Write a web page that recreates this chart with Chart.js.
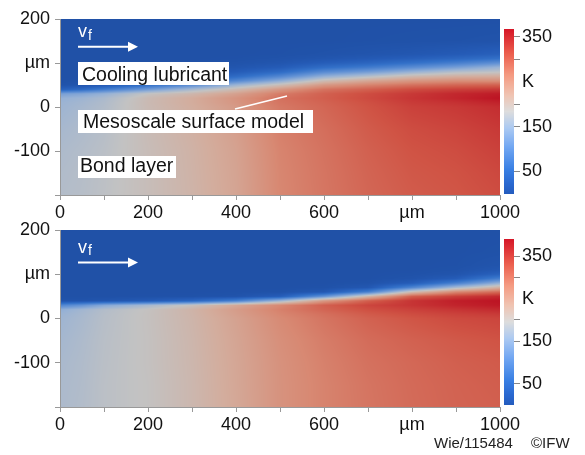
<!DOCTYPE html>
<html><head><meta charset="utf-8">
<script src="https://cdn.jsdelivr.net/npm/chart.js@4.4.1/dist/chart.umd.min.js"></script>
<style>
html,body{margin:0;padding:0;background:#fff;}
#wrap{position:relative;width:585px;height:455px;overflow:hidden;font-family:"Liberation Sans",Arial,sans-serif;}
canvas{position:absolute;}
.foot{position:absolute;font-size:15px;line-height:17px;color:#222;white-space:nowrap;}
</style></head><body>
<div id="wrap">
<canvas id="topPanel" width="585" height="225" style="left:0;top:0"></canvas>
<canvas id="topBar" width="90" height="225" style="left:495px;top:0"></canvas>
<canvas id="bottomPanel" width="585" height="225" style="left:0;top:211px"></canvas>
<canvas id="bottomBar" width="90" height="225" style="left:495px;top:210px"></canvas>
<div class="foot" style="left:434px;top:434px">Wie/115484</div>
<div class="foot" style="left:531px;top:434px">©IFW</div>
</div>
<script>
// ---- data (temperatures in K) ----
const xPositions = [0, 50, 100, 200, 300, 400, 500, 600, 700, 800, 900, 1000];           // µm, columns
const yPositions = [200, 150, 120, 110, 100, 90, 80, 70, 60, 50, 40, 30, 20, 10, 0, -50, -100, -150, -200]; // µm, rows
const xTickLabels = {0: '0', 200: '200', 400: '400', 600: '600', 800: 'µm', 1000: '1000'};
const yTickLabels = {200: '200', 100: 'µm', 0: '0', '-100': '-100'};
const barTickLabels = {350: '350', 250: 'K', 150: '150', 50: '50'};
const topMaxK = 367;
const bottomMaxK = 390;
// one column per x position, values top (200 µm) to bottom (-200 µm)
const topTemps = [
  [0,0,0,0,0,0,0,0,1,5,30,120,145,150,152,160,165,168,170],
  [0,0,0,0,0,0,0,0,2,8,45,130,152,157,160,166,170,172,173],
  [0,0,0,0,0,0,0,1,4,15,70,145,163,167,169,173,176,178,179],
  [0,0,0,0,0,2,4,8,15,50,115,185,198,199,198,196,194,193,193],
  [0,0,0,0,1,3,8,18,45,95,160,205,220,220,218,214,211,210,209],
  [0,0,0,1,4,10,22,45,85,150,200,235,250,248,243,237,233,231,230],
  [0,0,1,4,10,22,45,85,135,195,245,275,285,282,278,272,268,266,265],
  [0,0,4,10,25,50,90,140,195,245,283,300,302,298,295,288,284,282,281],
  [0,1,8,18,38,70,115,170,225,268,300,318,320,315,312,305,300,297,295],
  [0,2,13,28,55,95,145,200,245,285,318,335,338,333,328,318,312,308,305],
  [0,3,20,40,75,120,170,215,255,295,328,350,352,342,335,325,318,313,310],
  [0,5,30,55,100,150,180,220,255,300,335,360,367,355,345,335,328,322,318]
];
const bottomTemps = [
  [0,0,0,0,0,0,0,0,0,0,5,90,150,158,162,168,172,174,175],
  [0,0,0,0,0,0,0,0,0,0,6,110,165,170,172,176,178,179,180],
  [0,0,0,0,0,0,0,0,0,0,10,140,180,183,184,186,187,188,188],
  [0,0,0,0,0,0,0,0,0,1,20,170,198,199,199,198,198,197,197],
  [0,0,0,0,0,0,0,0,0,2,40,200,222,221,220,218,217,216,216],
  [0,0,0,0,0,0,0,0,1,5,80,240,255,252,248,244,242,241,240],
  [0,0,0,0,0,0,0,0,2,25,160,280,288,283,278,272,269,268,268],
  [0,0,0,0,0,0,0,2,15,110,260,320,315,305,300,292,288,286,286],
  [0,0,0,0,0,0,3,15,80,220,320,345,335,325,318,308,303,300,299],
  [0,0,0,0,2,6,25,90,210,320,360,360,348,338,330,318,312,310,309],
  [0,0,1,3,8,25,80,170,280,350,380,375,360,348,340,326,320,317,316],
  [0,2,8,15,35,80,150,230,310,370,390,385,370,355,345,332,325,322,320]
];

// ---- styling ----
const FONT = '"Liberation Sans", Arial, sans-serif';
const cmapStops = [
  [0.00, [36, 92, 190]], [0.06, [42, 104, 208]], [0.15, [58, 128, 228]], [0.28, [112, 166, 242]],
  [0.40, [172, 202, 242]], [0.50, [221, 221, 221]], [0.60, [240, 196, 178]], [0.72, [245, 155, 130]],
  [0.85, [236, 95, 78]], [1.00, [214, 22, 40]]
];
function cmap(t) {
  t = Math.max(0, Math.min(1, t));
  for (let i = 0; i < cmapStops.length - 1; i++) {
    const [t0, c0] = cmapStops[i], [t1, c1] = cmapStops[i + 1];
    if (t <= t1) {
      const f = (t - t0) / (t1 - t0);
      return [0, 1, 2].map(k => c0[k] + (c1[k] - c0[k]) * f);
    }
  }
  return cmapStops[cmapStops.length - 1][1];
}
function clamp01(v) { return Math.max(0, Math.min(1, v)); }
function sample(field, xv, yv) {
  let i = 0; while (i < xPositions.length - 2 && xv > xPositions[i + 1]) i++;
  let j = 0; while (j < yPositions.length - 2 && yv < yPositions[j + 1]) j++;
  const tx = clamp01((xv - xPositions[i]) / (xPositions[i + 1] - xPositions[i]));
  const ty = clamp01((yPositions[j] - yv) / (yPositions[j] - yPositions[j + 1]));
  const a = field[i][j], b = field[i + 1][j], c = field[i][j + 1], d = field[i + 1][j + 1];
  return a * (1 - tx) * (1 - ty) + b * tx * (1 - ty) + c * (1 - tx) * ty + d * tx * ty;
}
const SHADE = 0.88;

function heatPlugin(field, maxK) {
  return {
    id: 'heat',
    beforeDraw(chart) {
      const {ctx, chartArea: a, scales: {x, y}} = chart;
      const w = Math.round(a.right - a.left), h = Math.round(a.bottom - a.top);
      const off = document.createElement('canvas'); off.width = w; off.height = h;
      const octx = off.getContext('2d');
      const img = octx.createImageData(w, h);
      for (let py = 0; py < h; py++) {
        const yv = y.getValueForPixel(a.top + py + 0.5);
        for (let px = 0; px < w; px++) {
          const xv = x.getValueForPixel(a.left + px + 0.5);
          const c = cmap(sample(field, xv, yv) / maxK);
          const k = (py * w + px) * 4;
          img.data[k] = c[0] * SHADE; img.data[k + 1] = c[1] * SHADE; img.data[k + 2] = c[2] * SHADE; img.data[k + 3] = 255;
        }
      }
      octx.putImageData(img, 0, 0);
      ctx.drawImage(off, a.left, a.top, w, h);
    }
  };
}

function notesPlugin(n) {
  return {
    id: 'notes',
    afterDraw(chart) {
      const {ctx, chartArea: a} = chart;
      const L = a.left, T = a.top;
      ctx.save();
      ctx.fillStyle = '#fff';
      ctx.textBaseline = 'alphabetic';
      ctx.font = '18px ' + FONT;
      ctx.fillText('v', L + 18, T + n.vBase);
      ctx.font = '14px ' + FONT;
      ctx.fillText('f', L + 28, T + n.fBase);
      ctx.strokeStyle = '#fff'; ctx.lineWidth = 2;
      ctx.beginPath(); ctx.moveTo(L + 18, T + n.arrowY); ctx.lineTo(L + 70, T + n.arrowY); ctx.stroke();
      ctx.beginPath(); ctx.moveTo(L + 78, T + n.arrowY); ctx.lineTo(L + 68, T + n.arrowY - 5); ctx.lineTo(L + 68, T + n.arrowY + 5); ctx.closePath(); ctx.fill();
      if (n.boxes) {
        ctx.strokeStyle = '#fff'; ctx.lineWidth = 1.5;
        ctx.beginPath(); ctx.moveTo(L + 175, T + 90); ctx.lineTo(L + 227, T + 77); ctx.stroke();
        const boxes = [
          ['Cooling lubricant', 18, 43, 151, 23, 22, 62],
          ['Mesoscale surface model', 18, 91, 235, 23, 23, 109],
          ['Bond layer', 18, 137, 98, 22, 20, 153]
        ];
        ctx.font = '19.5px ' + FONT;
        for (const [t, bx, by, bw, bh, tx, ty] of boxes) {
          ctx.fillStyle = '#fff'; ctx.fillRect(L + bx, T + by, bw, bh);
          ctx.fillStyle = '#111'; ctx.fillText(t, L + tx, T + ty);
        }
      }
      ctx.restore();
    }
  };
}

function makePanel(id, field, maxK, notes, xAxisH) {
  new Chart(document.getElementById(id), {
    type: 'scatter',
    data: {datasets: [{data: []}]},
    options: {
      responsive: false, animation: false, devicePixelRatio: 1,
      layout: {padding: {left: 0, right: 85, top: notes.top, bottom: 0}},
      plugins: {legend: {display: false}, tooltip: {enabled: false}},
      scales: {
        x: {
          type: 'linear', min: 0, max: 1000,
          afterFit: s => { s.height = xAxisH; },
          ticks: {stepSize: 100, autoSkip: false, maxRotation: 0, padding: 2, color: '#111',
                  font: {family: FONT, size: 18}, callback: v => xTickLabels[v] ?? ''},
          grid: {drawOnChartArea: false, drawTicks: true, tickLength: 5, color: '#999'},
          border: {display: true, color: '#999'}
        },
        y: {
          type: 'linear', min: -200, max: 200,
          afterFit: s => { s.width = 60; },
          ticks: {stepSize: 100, autoSkip: false, padding: 5, color: '#111',
                  font: {family: FONT, size: 18}, callback: v => yTickLabels[v] ?? ''},
          grid: {drawOnChartArea: false, drawTicks: true, tickLength: 5, color: '#999'},
          border: {display: true, color: '#999'}
        }
      }
    },
    plugins: [heatPlugin(field, maxK), notesPlugin(notes)]
  });
}

function barPlugin(maxK) {
  return {
    id: 'bar',
    beforeDraw(chart) {
      const {ctx, chartArea: a, scales: {y}} = chart;
      for (let py = Math.floor(a.top); py < Math.ceil(a.bottom); py++) {
        const c = cmap(y.getValueForPixel(py + 0.5) / maxK);
        ctx.fillStyle = `rgb(${c[0] | 0},${c[1] | 0},${c[2] | 0})`;
        ctx.fillRect(a.left, py, a.right - a.left, 1);
      }
    }
  };
}

function makeBar(id, maxK, padTop, padBottom) {
  new Chart(document.getElementById(id), {
    type: 'scatter',
    data: {datasets: [{data: []}]},
    options: {
      responsive: false, animation: false, devicePixelRatio: 1,
      layout: {padding: {left: 9, right: 0, top: padTop, bottom: padBottom}},
      plugins: {legend: {display: false}, tooltip: {enabled: false}},
      scales: {
        x: {display: false},
        y: {
          type: 'linear', position: 'right', min: 0, max: maxK,
          afterFit: s => { s.width = 71; },
          ticks: {stepSize: 50, includeBounds: false, autoSkip: false, padding: 2, color: '#111',
                  font: {family: FONT, size: 18}, callback: v => barTickLabels[v] ?? ''},
          grid: {drawOnChartArea: false, drawTicks: true, tickLength: 6,
                 color: c => ([350, 300, 200, 150, 50].includes(c.tick && c.tick.value) ? '#888' : 'rgba(0,0,0,0)')},
          border: {display: false}
        }
      }
    },
    plugins: [barPlugin(maxK)]
  });
}

makePanel('topPanel', topTemps, topMaxK, {top: 19, vBase: 18.3, fBase: 20.5, arrowY: 27.7, boxes: true}, 30);
makeBar('topBar', topMaxK, 29, 31);
makePanel('bottomPanel', bottomTemps, bottomMaxK, {top: 19, vBase: 22.5, fBase: 24.5, arrowY: 32.5, boxes: false}, 29);
makeBar('bottomBar', bottomMaxK, 29, 30);
</script>
</body></html>
